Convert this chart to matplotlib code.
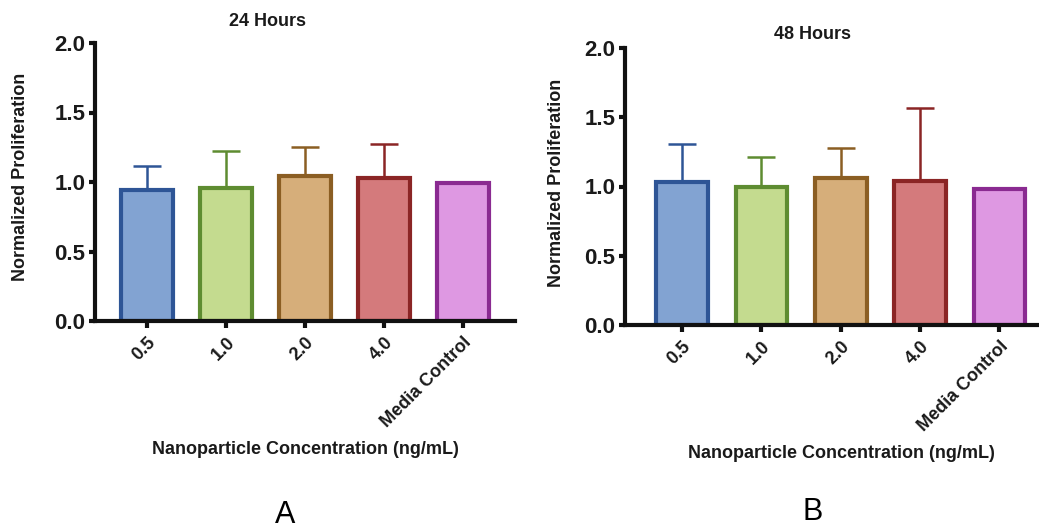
import numpy as np
import matplotlib.pyplot as plt

plt.rcParams['font.family'] = ['Liberation Sans', 'DejaVu Sans']

categories = ['0.5', '1.0', '2.0', '4.0', 'Media Control']
mean_24h = [0.94, 0.96, 1.04, 1.03, 0.99]
top_24h = [1.115, 1.22, 1.25, 1.27, 0.99]
mean_48h = [1.035, 1.0, 1.06, 1.04, 0.985]
top_48h = [1.31, 1.215, 1.28, 1.565, 0.985]

fill_colors = ['#82a3d2', '#c4db8f', '#d6ae7a', '#d47a7c', '#de98e2']
edge_colors = ['#2e5596', '#5e8c31', '#8b5e23', '#8b2525', '#8a2a91']

fig = plt.figure(figsize=(10.39, 5.29), dpi=100)
W, H = 1039, 529


def panel(rect, means, tops, title, title_xy, xlim, ylab_xy, xlabel_xy, letter, letter_xy):
    left, top, right, bottom = rect
    ax = fig.add_axes([left / W, 1 - bottom / H, (right - left) / W, (bottom - top) / H])
    x = np.arange(len(categories))
    err = np.array(tops) - np.array(means)
    for i in range(len(x)):
        if err[i] > 0:
            ax.errorbar(x[i], means[i], yerr=[[0], [err[i]]], fmt='none',
                        ecolor=edge_colors[i], elinewidth=1.8, capsize=10,
                        capthick=1.8, zorder=1)
    ax.bar(x, means, width=0.65, color=fill_colors, edgecolor=edge_colors,
           linewidth=3, zorder=2)
    ax.set_xlim(*xlim)
    ax.set_ylim(0, 2.0)
    ax.set_yticks([0, 0.5, 1.0, 1.5, 2.0])
    ax.set_yticklabels(['0.0', '0.5', '1.0', '1.5', '2.0'], fontsize=16, fontweight='bold',
                       color='#1a1a1a')
    ax.set_xticks(x)
    ax.set_xticklabels(categories, rotation=45, ha='right', rotation_mode='anchor',
                       fontsize=13, fontweight='bold', color='#1a1a1a')
    for s in ['top', 'right']:
        ax.spines[s].set_visible(False)
    for s in ['left', 'bottom']:
        ax.spines[s].set_linewidth(3)
        ax.spines[s].set_color('#111111')
    ax.tick_params(axis='x', width=3, length=5, color='#111111', pad=4)
    ax.tick_params(axis='y', width=3, length=4, color='#111111', pad=3)
    ax.set_ylabel('Normalized Proliferation', fontsize=13, fontweight='bold', color='#1a1a1a')
    ax.yaxis.set_label_coords(*ylab_xy)
    ax.text(title_xy[0], title_xy[1], title, transform=ax.transAxes, ha='center',
            va='center', fontsize=13, fontweight='bold', color='#1a1a1a')
    fig.text(xlabel_xy[0] / W, 1 - xlabel_xy[1] / H, 'Nanoparticle Concentration (ng/mL)',
             ha='center', va='center', fontsize=13, fontweight='bold', color='#1a1a1a')
    fig.text(letter_xy[0] / W, 1 - letter_xy[1] / H, letter, ha='center', va='center',
             fontsize=22)
    return ax


panel((95, 43, 515, 321), mean_24h, top_24h, '24 Hours', (0.41, 1.076), (-0.66, 4.66),
      (-0.157, 0.518), (305, 450), 'A', (285, 515))
panel((625, 48, 1039, 325), mean_48h, top_48h, '48 Hours', (0.454, 1.047), (-0.72, 4.5),
      (-0.145, 0.514), (841, 454), 'B', (813, 512))

fig.savefig('out.png', dpi=100)
